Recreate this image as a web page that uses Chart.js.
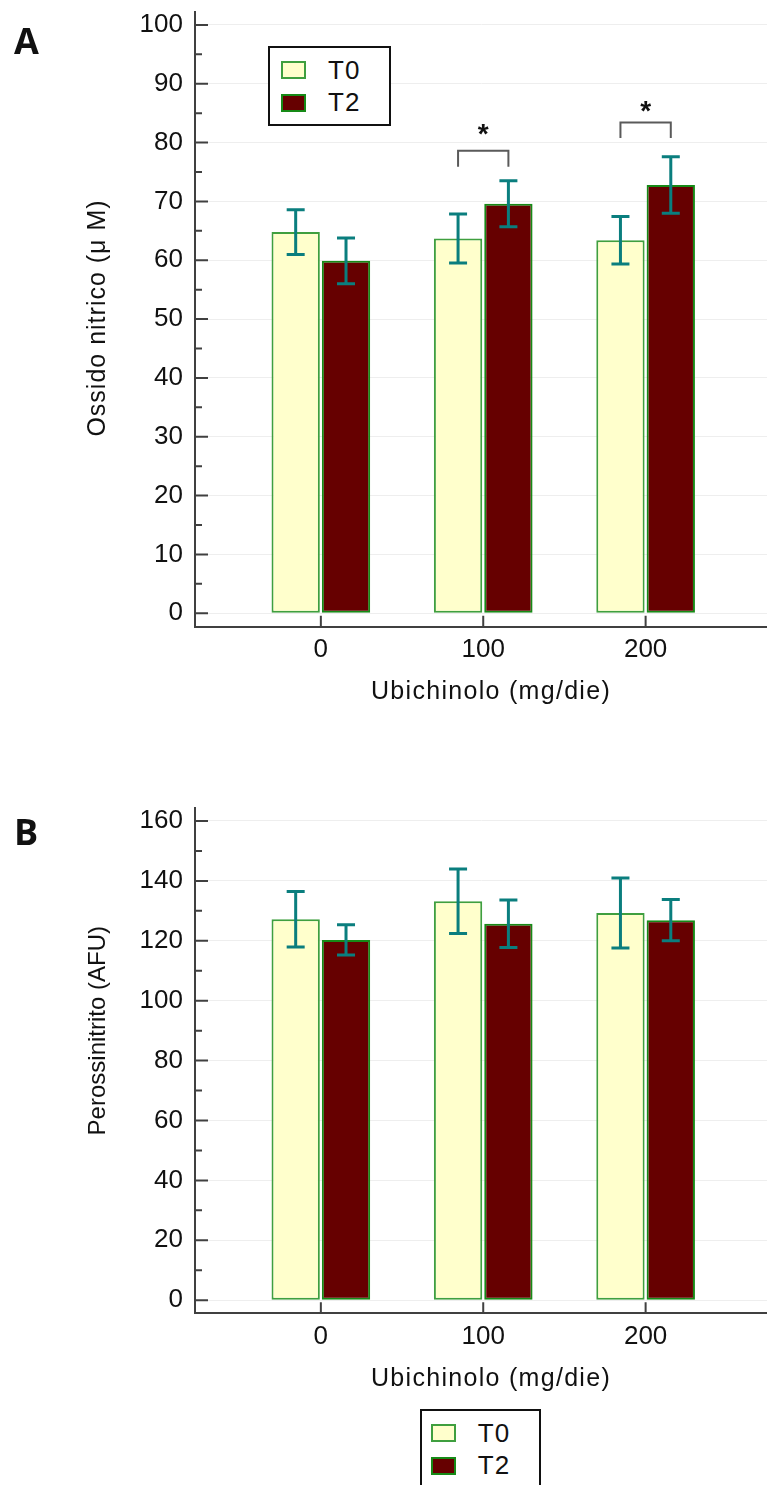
<!DOCTYPE html>
<html>
<head>
<meta charset="utf-8">
<script src="https://cdn.jsdelivr.net/npm/chart.js@4.4.1/dist/chart.umd.min.js"></script>
<style>
    body { margin: 0; width: 767px; height: 1485px; overflow: hidden; background: #fff; position: relative; }
    canvas { position: absolute; left: 0; }
    #chartA { top: 0; }
    #chartB { top: 760px; }
    .legend { position: absolute; box-sizing: border-box; border: 2px solid #111; background: #fff;
              font: 26px 'Liberation Sans', Arial, sans-serif; color: #111; z-index: 2; }
    .lg-row { display: flex; align-items: center; height: 32.5px; letter-spacing: 1px; }
    .lg-sw { box-sizing: border-box; width: 25px; height: 18px; border: 2px solid; margin-right: 22px; }
</style>
</head>
<body>
<canvas id="chartA" width="767" height="740"></canvas>
<canvas id="chartB" width="767" height="640"></canvas>
<div class="legend" id="legendA" style="left:268px;top:45.7px;width:122.7px;height:80px;padding:6.5px 0 0 11px"></div>
<div class="legend" id="legendB" style="left:419.6px;top:1409px;width:121.7px;height:100px;padding:6px 0 0 9.2px"></div>
<script>
// dati
const doses = [0, 100, 200];
const seriesNames = ['T0', 'T2'];

const nitricT0 = [64.8, 63.7, 63.4];
const nitricT2 = [59.9, 69.6, 72.8];
const nitricErrT0 = [3.8, 4.15, 4.05];
const nitricErrT2 = [3.9, 3.9, 4.8];
const nitricTicks = [0, 10, 20, 30, 40, 50, 60, 70, 80, 90, 100];

const peroxT0 = [127.2, 133.2, 129.3];
const peroxT2 = [120.3, 125.7, 126.9];
const peroxErrT0 = [9.3, 10.8, 11.7];
const peroxErrT2 = [5.05, 7.95, 6.85];
const peroxTicks = [0, 20, 40, 60, 80, 100, 120, 140, 160];

// significativita (solo pannello A)
const sigGroups = [1, 2];
const sigBracketTop = [78.6, 83.4];
const sigBracketLeg = [75.9, 80.8];
const sigStarY = [82.3, 86.3];

const fillColors = ['#ffffcc', '#660000'];
const borderColors = ['#3f9f3f', '#178a17'];
const errColor = '#0a7e7e';
const axisColor = '#404040';
const gridColor = '#eeeeee';
const FONT = "'Liberation Sans', Arial, sans-serif";

Chart.defaults.font.family = FONT;
Chart.defaults.color = '#111';

function buildLegend(id) {
    const el = document.getElementById(id);
    seriesNames.forEach((name, i) => {
        const row = document.createElement('div');
        row.className = 'lg-row';
        row.innerHTML = `<span class="lg-sw" style="background:${fillColors[i]};border-color:${borderColors[i]}"></span><span>${name}</span>`;
        el.appendChild(row);
    });
}

function makeChart(canvasId, cfg) {
    const series = [cfg.t0, cfg.t2];
    const errs = [cfg.e0, cfg.e2];

    const decorations = {
        id: 'decorations',
        afterDatasetsDraw(chart) {
            const ctx = chart.ctx;
            const y = chart.scales.y;
            // barre di errore
            ctx.save();
            ctx.strokeStyle = errColor;
            ctx.lineWidth = 3;
            chart.data.datasets.forEach((ds, di) => {
                const meta = chart.getDatasetMeta(di);
                meta.data.forEach((bar, i) => {
                    const v = ds.data[i].y;
                    const e = ds.errors[i];
                    const top = y.getPixelForValue(v + e);
                    const bot = y.getPixelForValue(v - e);
                    ctx.beginPath();
                    ctx.moveTo(bar.x, top); ctx.lineTo(bar.x, bot);
                    ctx.moveTo(bar.x - 9, top); ctx.lineTo(bar.x + 9, top);
                    ctx.moveTo(bar.x - 9, bot); ctx.lineTo(bar.x + 9, bot);
                    ctx.stroke();
                });
            });
            ctx.restore();

            // parentesi e asterischi
            if (cfg.sig) {
                const m0 = chart.getDatasetMeta(0), m1 = chart.getDatasetMeta(1);
                ctx.save();
                ctx.strokeStyle = '#5a5a5a';
                ctx.lineWidth = 2;
                ctx.fillStyle = '#111';
                ctx.font = 'bold 28px ' + FONT;
                ctx.textAlign = 'center';
                ctx.textBaseline = 'alphabetic';
                sigGroups.forEach((g, k) => {
                    const x1 = m0.data[g].x, x2 = m1.data[g].x;
                    const yt = y.getPixelForValue(sigBracketTop[k]);
                    const yl = y.getPixelForValue(sigBracketLeg[k]);
                    ctx.beginPath();
                    ctx.moveTo(x1, yl); ctx.lineTo(x1, yt); ctx.lineTo(x2, yt); ctx.lineTo(x2, yl);
                    ctx.stroke();
                    ctx.fillText('*', (x1 + x2) / 2, y.getPixelForValue(sigStarY[k]) + 14);
                });
                ctx.restore();
            }
        },
        afterDraw(chart) {
            const ctx = chart.ctx;
            const {left, bottom} = chart.chartArea;
            const x = chart.scales.x, y = chart.scales.y;
            const ticks = cfg.ticks;
            // tacche interne
            ctx.save();
            ctx.strokeStyle = axisColor;
            ctx.lineWidth = 2;
            ctx.beginPath();
            ticks.forEach((v, i) => {
                const py = y.getPixelForValue(v);
                ctx.moveTo(left, py); ctx.lineTo(left + 13, py);
                if (i < ticks.length - 1) {
                    const pm = y.getPixelForValue((v + ticks[i + 1]) / 2);
                    ctx.moveTo(left, pm); ctx.lineTo(left + 7, pm);
                }
            });
            doses.forEach(d => {
                const px = x.getPixelForValue(d);
                ctx.moveTo(px, bottom); ctx.lineTo(px, bottom - 11);
            });
            ctx.stroke();

            // titoli assi e lettera del pannello
            ctx.fillStyle = '#111';
            ctx.textBaseline = 'alphabetic';
            ctx.textAlign = 'center';
            ctx.font = '25px ' + FONT;
            ctx.letterSpacing = '1.3px';
            ctx.fillText('Ubichinolo (mg/die)', 491, cfg.xTitleBase);

            ctx.save();
            ctx.translate(104.5, cfg.yTitleMid);
            ctx.rotate(-Math.PI / 2);
            ctx.font = cfg.yTitleFont + ' ' + FONT;
            ctx.letterSpacing = cfg.yTitleSpacing;
            ctx.fillText(cfg.yTitle, 0, 0);
            ctx.restore();
            ctx.letterSpacing = '0px';

            ctx.textAlign = 'left';
            ctx.font = "bold 36px 'Open Sans', sans-serif";
            ctx.fillText(cfg.letter, 14, cfg.letterBase);
            ctx.restore();
        }
    };

    return new Chart(document.getElementById(canvasId), {
        type: 'bar',
        data: {
            datasets: seriesNames.map((name, si) => ({
                label: name,
                data: doses.map((d, i) => ({ x: d, y: series[si][i] })),
                errors: errs[si],
                backgroundColor: fillColors[si],
                borderColor: borderColors[si],
                borderWidth: 2,
                borderSkipped: false,
                categoryPercentage: 0.62,
                barPercentage: 0.96
            }))
        },
        options: {
            responsive: false,
            animation: false,
            devicePixelRatio: 1,
            layout: { padding: { top: cfg.padTop, left: 0, right: 0, bottom: 0 } },
            plugins: { legend: { display: false }, tooltip: { enabled: false } },
            scales: {
                x: {
                    type: 'linear',
                    min: -77.5,
                    max: 274.75,
                    offset: false,
                    grid: { display: true, drawOnChartArea: false, drawTicks: false, offset: false },
                    border: { display: true, color: axisColor, width: 2 },
                    ticks: { padding: 8, font: { size: 26 }, color: '#111', maxRotation: 0 },
                    afterBuildTicks: s => { s.ticks = doses.map(v => ({ value: v })); },
                    afterFit: s => { s.height = cfg.xHeight; s.paddingLeft = 0; s.paddingRight = 0; }
                },
                y: {
                    min: cfg.min,
                    max: cfg.max,
                    grid: { color: gridColor, drawTicks: false },
                    border: { display: true, color: axisColor, width: 2 },
                    ticks: { padding: 12, font: { size: 26 }, color: '#111' },
                    afterBuildTicks: s => { s.ticks = cfg.ticks.map(v => ({ value: v })); },
                    afterFit: s => { s.width = 195; s.paddingTop = 0; s.paddingBottom = 0; }
                }
            }
        },
        plugins: [decorations]
    });
}

makeChart('chartA', {
    t0: nitricT0, t2: nitricT2, e0: nitricErrT0, e2: nitricErrT2,
    ticks: nitricTicks, min: -2.28, max: 102.2,
    padTop: 12, xHeight: 113.3,
    sig: true,
    yTitle: 'Ossido nitrico (μ M)', yTitleMid: 318, yTitleFont: '25px', yTitleSpacing: '1px',
    xTitleBase: 699, letter: 'A', letterBase: 54.3
});

makeChart('chartB', {
    t0: peroxT0, t2: peroxT2, e0: peroxErrT0, e2: peroxErrT2,
    ticks: peroxTicks, min: -4.37, max: 164.24,
    padTop: 48.3, xHeight: 86.7,
    sig: false,
    yTitle: 'Perossinitrito (AFU)', yTitleMid: 270.7, yTitleFont: '24px', yTitleSpacing: '0px',
    xTitleBase: 626, letter: 'B', letterBase: 85
});

buildLegend('legendA');
buildLegend('legendB');
</script>
</body>
</html>
